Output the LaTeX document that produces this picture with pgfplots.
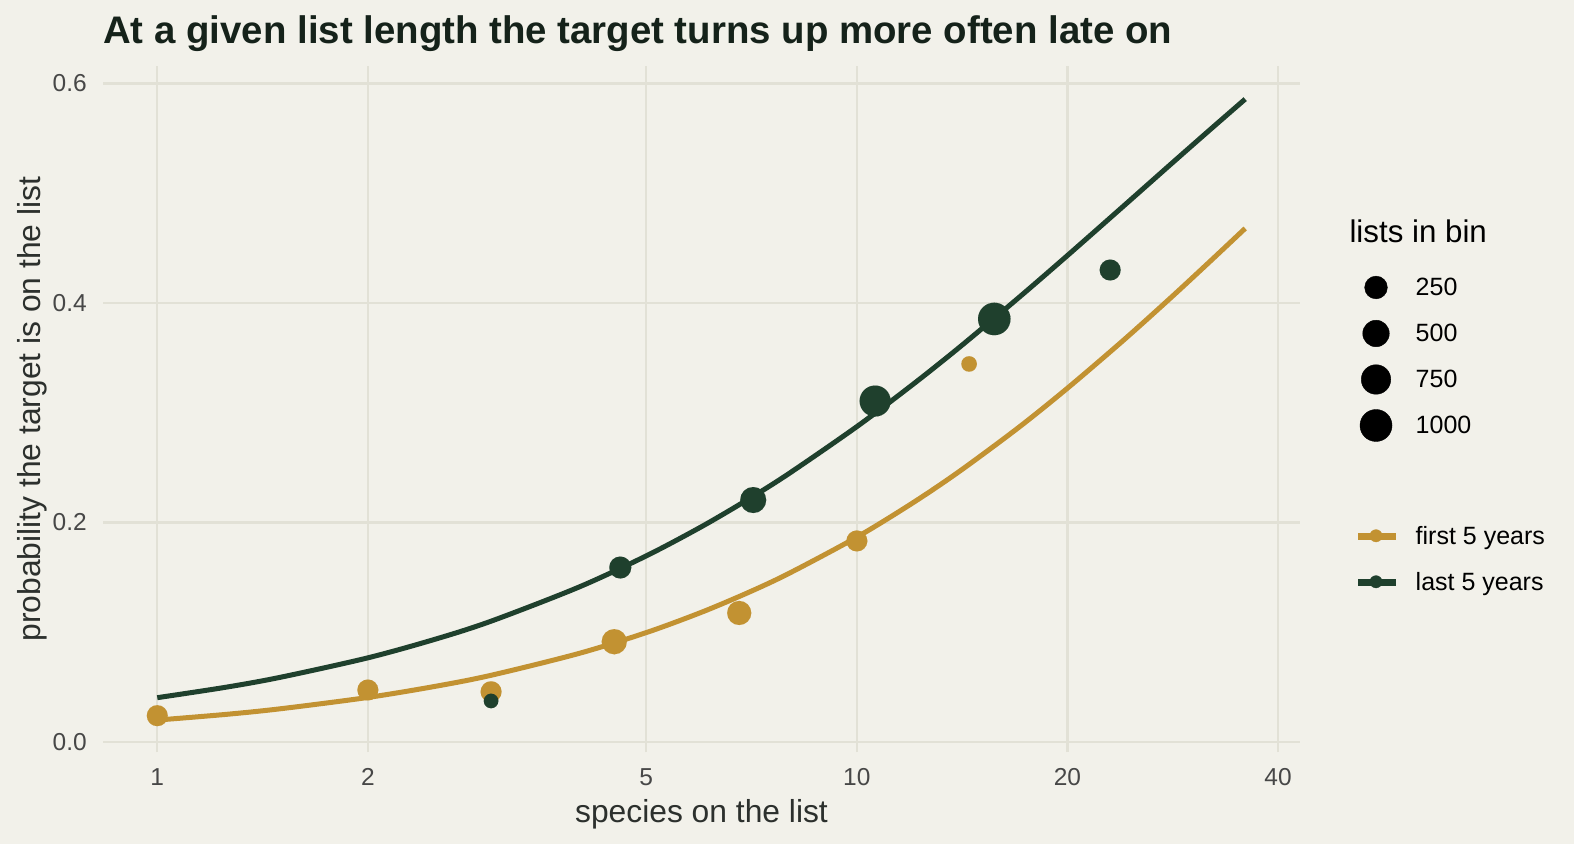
\documentclass[border=0pt]{standalone}
\usepackage{pgfplots}
\pgfplotsset{compat=1.18}
\usepackage{pgfplotstable}
\usepackage{fontspec}
\setmainfont{Liberation Sans}
\definecolor{bg}{HTML}{F2F1EA}
\definecolor{gridc}{HTML}{E2E1D6}
\definecolor{goldc}{HTML}{C29232}
\definecolor{dgreen}{HTML}{1F402D}
\definecolor{ticktext}{HTML}{474747}
\definecolor{labtext}{HTML}{2C302D}
\definecolor{titletext}{HTML}{15221A}

% binned observations: x = species on list, y = share with target, n = lists in bin
\pgfplotstableread{
x      y       n
1.00   0.0240  166
2.00   0.0474  166
3.00   0.0458  166
4.50   0.0914  400
6.79   0.1176  330
10.0   0.1832  166
14.47  0.3445  13
}\firstpts
\pgfplotstableread{
x      y       n
3.00   0.0374  4
4.59   0.1590  213
7.11   0.2205  458
10.62  0.3107  893
15.72  0.3855  1051
23.02  0.4301  166
}\lastpts
% fitted curves
\pgfplotstableread{
x     y
1     0.0200
1.25  0.0251
1.5   0.0303
2     0.0406
2.5   0.0508
3     0.0608
4     0.0806
5     0.0997
6     0.1183
7     0.1363
8     0.1537
10    0.1867
12    0.2176
14    0.2464
17    0.2862
20    0.3224
24    0.3656
28    0.4039
32    0.4381
35.9  0.4680
}\firstfit
\pgfplotstableread{
x     y
1     0.0404
1.25  0.0498
1.5   0.0590
2     0.0767
2.5   0.0938
3     0.1101
4     0.1410
5     0.1696
6     0.1963
7     0.2213
8     0.2447
10    0.2874
12    0.3254
14    0.3594
17    0.4044
20    0.4433
24    0.4878
28    0.5256
32    0.5581
35.9  0.5858
}\lastfit

\pgfplotsset{
  legaxis/.style={
    at={(103pt,92pt)}, anchor=south west,
    scale only axis, width=1197pt, height=686pt,
    hide axis, xmin=0, xmax=1, ymin=0, ymax=1,
    legend style={anchor=north west, draw=none, fill=none,
      inner sep=0pt, outer sep=0pt, row sep=0pt, column sep=19.7pt,
      nodes={inner sep=0pt}, font=\fontsize{25}{28}\selectfont},
    legend cell align=left,
  },
}

\begin{document}
\begin{tikzpicture}
\path[use as bounding box, fill=bg] (0,0) rectangle (1574pt,844pt);
\node[anchor=base west, inner sep=0pt, text=titletext,
  font=\fontsize{38.4}{42}\selectfont\bfseries] at (103pt,800.7pt)
  {At a given list length the target turns up more often late on};
\node[anchor=base west, inner sep=0pt, text=black,
  font=\fontsize{31.3}{36}\selectfont] at (1349.3pt,601.3pt) {lists in bin};

\begin{axis}[
  at={(103pt,92pt)}, anchor=south west,
  scale only axis, width=1197pt, height=686pt,
  xmode=log, xmin=0.8364, xmax=43.0, ymin=-0.0091, ymax=0.616,
  axis line style={draw=none}, tick style={draw=none},
  xminorticks=false,
  xtick={1,2,5,10,20,40}, xticklabels={1,2,5,10,20,40},
  ytick={0,0.2,0.4,0.6}, yticklabels={0.0,0.2,0.4,0.6},
  grid=major, major grid style={line width=2.2pt, gridc},
  /pgf/number format/assume math mode=true,
  ticklabel style={font=\fontsize{24.5}{28}\selectfont, text=ticktext, inner sep=0pt},
  xticklabel style={anchor=north, yshift=-16pt},
  yticklabel style={anchor=east, xshift=-16pt},
  xlabel={species on the list},
  ylabel={probability the target is on the list},
  label style={font=\fontsize{31.8}{36}\selectfont, text=labtext, inner sep=0pt},
  xlabel style={at={([yshift=-70pt]axis description cs:0.5,0)}, anchor=base},
  ylabel style={at={([xshift=-62.3pt]axis description cs:0,0.5)}, anchor=base},
]
\addplot[forget plot, goldc, line width=5pt, smooth, no marks] table[x=x,y=y] {\firstfit};
\addplot[forget plot, dgreen, line width=5pt, smooth, no marks] table[x=x,y=y] {\lastfit};
\addplot[forget plot, scatter, only marks, mark=*,
  scatter/use mapped color={draw=goldc, fill=goldc, line width=0.01pt},
  visualization depends on={(13.4+0.589*sqrt(\thisrow{n}))/2 \as \rad},
  scatter/@pre marker code/.append style={/tikz/mark size=\rad pt}]
  table[x=x,y=y] {\firstpts};
\addplot[forget plot, scatter, only marks, mark=*,
  scatter/use mapped color={draw=dgreen, fill=dgreen, line width=0.01pt},
  visualization depends on={(13.4+0.589*sqrt(\thisrow{n}))/2 \as \rad},
  scatter/@pre marker code/.append style={/tikz/mark size=\rad pt}]
  table[x=x,y=y] {\lastpts};
\end{axis}

\begin{axis}[legaxis, legend style={at={(1.04679,0.34869)}}]
\addlegendimage{legend image code/.code={
  \path[draw=none, fill=none] (-20pt,-23pt) rectangle (20pt,23pt);
  \fill[goldc] (-18pt,-3pt) rectangle (18.7pt,3pt);
  \fill[goldc] (0pt,0pt) circle (6.15pt);}}
\addlegendentry{first 5 years}
\addlegendimage{legend image code/.code={
  \path[draw=none, fill=none] (-20pt,-23pt) rectangle (20pt,23pt);
  \fill[dgreen] (-18pt,-3pt) rectangle (18.7pt,3pt);
  \fill[dgreen] (0pt,0pt) circle (6.15pt);}}
\addlegendentry{last 5 years}
\end{axis}

\begin{axis}[legaxis, legend style={at={(1.04679,0.71065)}}]
\addlegendimage{legend image code/.code={
  \path[draw=none, fill=none] (-20pt,-23pt) rectangle (20pt,23pt);
  \fill[black] (0pt,0pt) circle (11.36pt);}}
\addlegendentry{250}
\addlegendimage{legend image code/.code={
  \path[draw=none, fill=none] (-20pt,-23pt) rectangle (20pt,23pt);
  \fill[black] (0pt,0pt) circle (13.29pt);}}
\addlegendentry{500}
\addlegendimage{legend image code/.code={
  \path[draw=none, fill=none] (-20pt,-23pt) rectangle (20pt,23pt);
  \fill[black] (0pt,0pt) circle (14.77pt);}}
\addlegendentry{750}
\addlegendimage{legend image code/.code={
  \path[draw=none, fill=none] (-20pt,-23pt) rectangle (20pt,23pt);
  \fill[black] (0pt,0pt) circle (16.01pt);}}
\addlegendentry{1000}
\end{axis}
\end{tikzpicture}
\end{document}
